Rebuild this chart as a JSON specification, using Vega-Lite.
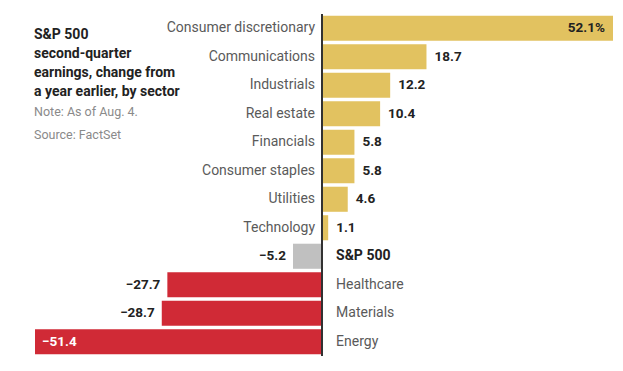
{
  "$schema": "https://vega.github.io/schema/vega-lite/v6.json",
  "width": 578,
  "height": 342,
  "autosize": {"type": "none"},
  "padding": {"left": 35, "top": 14, "right": 10, "bottom": 15},
  "background": "white",
  "config": {"view": {"stroke": null}, "font": "Roboto"},
  "title": {
    "text": ["S&P 500", "second-quarter", "earnings, change from", "a year earlier, by sector"],
    "subtitle": ["Note: As of Aug. 4.", "Source: FactSet"],
    "anchor": "start",
    "frame": "bounds",
    "orient": "top",
    "dx": -1,
    "dy": 132,
    "font": "Roboto",
    "fontSize": 14,
    "fontWeight": "bold",
    "color": "#222222",
    "lineHeight": 19,
    "subtitleFont": "Roboto",
    "subtitleFontSize": 12.5,
    "subtitleColor": "#8a8a8a",
    "subtitleLineHeight": 23,
    "subtitlePadding": 7
  },
  "data": {
    "values": [
      {"sector": "Consumer discretionary", "value": 52.1, "label": "52.1%", "kind": "up"},
      {"sector": "Communications", "value": 18.7, "label": "18.7", "kind": "up"},
      {"sector": "Industrials", "value": 12.2, "label": "12.2", "kind": "up"},
      {"sector": "Real estate", "value": 10.4, "label": "10.4", "kind": "up"},
      {"sector": "Financials", "value": 5.8, "label": "5.8", "kind": "up"},
      {"sector": "Consumer staples", "value": 5.8, "label": "5.8", "kind": "up"},
      {"sector": "Utilities", "value": 4.6, "label": "4.6", "kind": "up"},
      {"sector": "Technology", "value": 1.1, "label": "1.1", "kind": "up"},
      {"sector": "S&P 500", "value": -5.2, "label": "−5.2", "kind": "index"},
      {"sector": "Healthcare", "value": -27.7, "label": "−27.7", "kind": "down"},
      {"sector": "Materials", "value": -28.7, "label": "−28.7", "kind": "down"},
      {"sector": "Energy", "value": -51.4, "label": "−51.4", "kind": "down"}
    ]
  },
  "encoding": {
    "y": {
      "field": "sector",
      "type": "nominal",
      "sort": null,
      "axis": null,
      "scale": {"paddingInner": 0.12, "paddingOuter": 0.06}
    }
  },
  "layer": [
    {
      "mark": {"type": "bar"},
      "encoding": {
        "x": {"field": "value", "type": "quantitative", "axis": null, "scale": {"domain": [-51.4, 52.1], "nice": false, "zero": true}},
        "color": {
          "field": "kind",
          "type": "nominal",
          "legend": null,
          "scale": {"domain": ["up", "index", "down"], "range": ["#e2c260", "#c0c0c0", "#d02a36"]}
        }
      }
    },
    {
      "mark": {"type": "rule", "color": "#333333", "strokeWidth": 1},
      "encoding": {"x": {"datum": 0}, "y": null}
    },
    {
      "transform": [{"filter": "datum.value > 0"}],
      "mark": {"type": "text", "align": "right", "baseline": "middle", "dx": -7, "fontSize": 14, "color": "#5a5a5a"},
      "encoding": {"x": {"datum": 0}, "text": {"field": "sector"}}
    },
    {
      "transform": [{"filter": "datum.kind == 'down'"}],
      "mark": {"type": "text", "align": "left", "baseline": "middle", "dx": 14, "fontSize": 14, "color": "#5a5a5a"},
      "encoding": {"x": {"datum": 0}, "text": {"field": "sector"}}
    },
    {
      "transform": [{"filter": "datum.kind == 'index'"}],
      "mark": {"type": "text", "align": "left", "baseline": "middle", "dx": 14, "fontSize": 14, "fontWeight": "bold", "color": "#222222"},
      "encoding": {"x": {"datum": 0}, "text": {"field": "sector"}}
    },
    {
      "transform": [{"filter": "datum.value > 0 && datum.value < 40"}],
      "mark": {"type": "text", "align": "left", "baseline": "middle", "dx": 8, "fontSize": 13.5, "fontWeight": "bold", "color": "#222222"},
      "encoding": {"x": {"field": "value", "type": "quantitative"}, "text": {"field": "label"}}
    },
    {
      "transform": [{"filter": "datum.value >= 40"}],
      "mark": {"type": "text", "align": "right", "baseline": "middle", "dx": -8, "fontSize": 13.5, "fontWeight": "bold", "color": "#222222"},
      "encoding": {"x": {"field": "value", "type": "quantitative"}, "text": {"field": "label"}}
    },
    {
      "transform": [{"filter": "datum.value < 0 && datum.value > -40"}],
      "mark": {"type": "text", "align": "right", "baseline": "middle", "dx": -7, "fontSize": 13.5, "fontWeight": "bold", "color": "#222222"},
      "encoding": {"x": {"field": "value", "type": "quantitative"}, "text": {"field": "label"}}
    },
    {
      "transform": [{"filter": "datum.value <= -40"}],
      "mark": {"type": "text", "align": "left", "baseline": "middle", "dx": 7, "fontSize": 13.5, "fontWeight": "bold", "color": "#ffffff"},
      "encoding": {"x": {"field": "value", "type": "quantitative"}, "text": {"field": "label"}}
    }
  ]
}
